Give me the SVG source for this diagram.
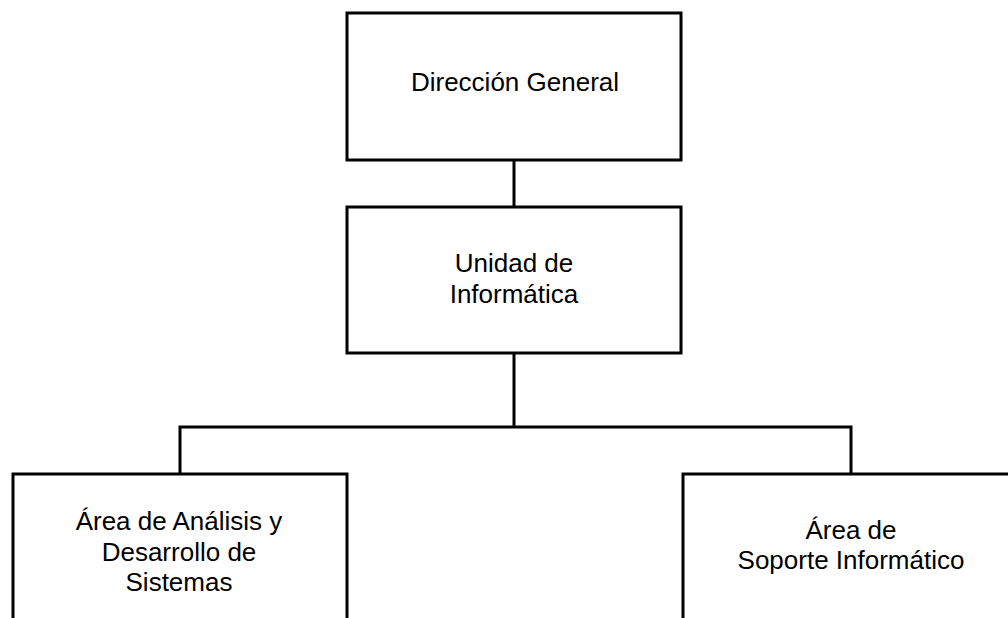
<svg xmlns="http://www.w3.org/2000/svg" width="1008" height="618" viewBox="0 0 1008 618">
<style>
.box{fill:#fff;stroke:#000;stroke-width:3}
.conn{fill:none;stroke:#000;stroke-width:3}
text{font-family:"Liberation Sans",Arial,sans-serif;font-size:26px;fill:#000;text-anchor:middle}
</style>
<rect width="1008" height="618" fill="#fff"/>
<g id="connectors">
<line class="conn" x1="514" y1="160" x2="514" y2="207"/>
<line class="conn" x1="514" y1="353" x2="514" y2="427"/>
<polyline class="conn" points="180,474 180,427 851,427 851,474"/>
</g>
<g id="direccion">
<rect class="box" x="347" y="13" width="334" height="147"/>
<text x="515" y="91">Dirección General</text>
</g>
<g id="unidad">
<rect class="box" x="347" y="207" width="334" height="146"/>
<text x="514" y="272">Unidad de</text>
<text x="514" y="303">Informática</text>
</g>
<g id="analisis">
<rect class="box" x="13" y="474" width="334" height="160"/>
<text x="179" y="530">Área de Análisis y</text>
<text x="179" y="561">Desarrollo de</text>
<text x="179" y="591">Sistemas</text>
</g>
<g id="soporte">
<rect class="box" x="683" y="474" width="336" height="160"/>
<text x="851" y="539">Área de</text>
<text x="851" y="569">Soporte Informático</text>
</g>
</svg>
